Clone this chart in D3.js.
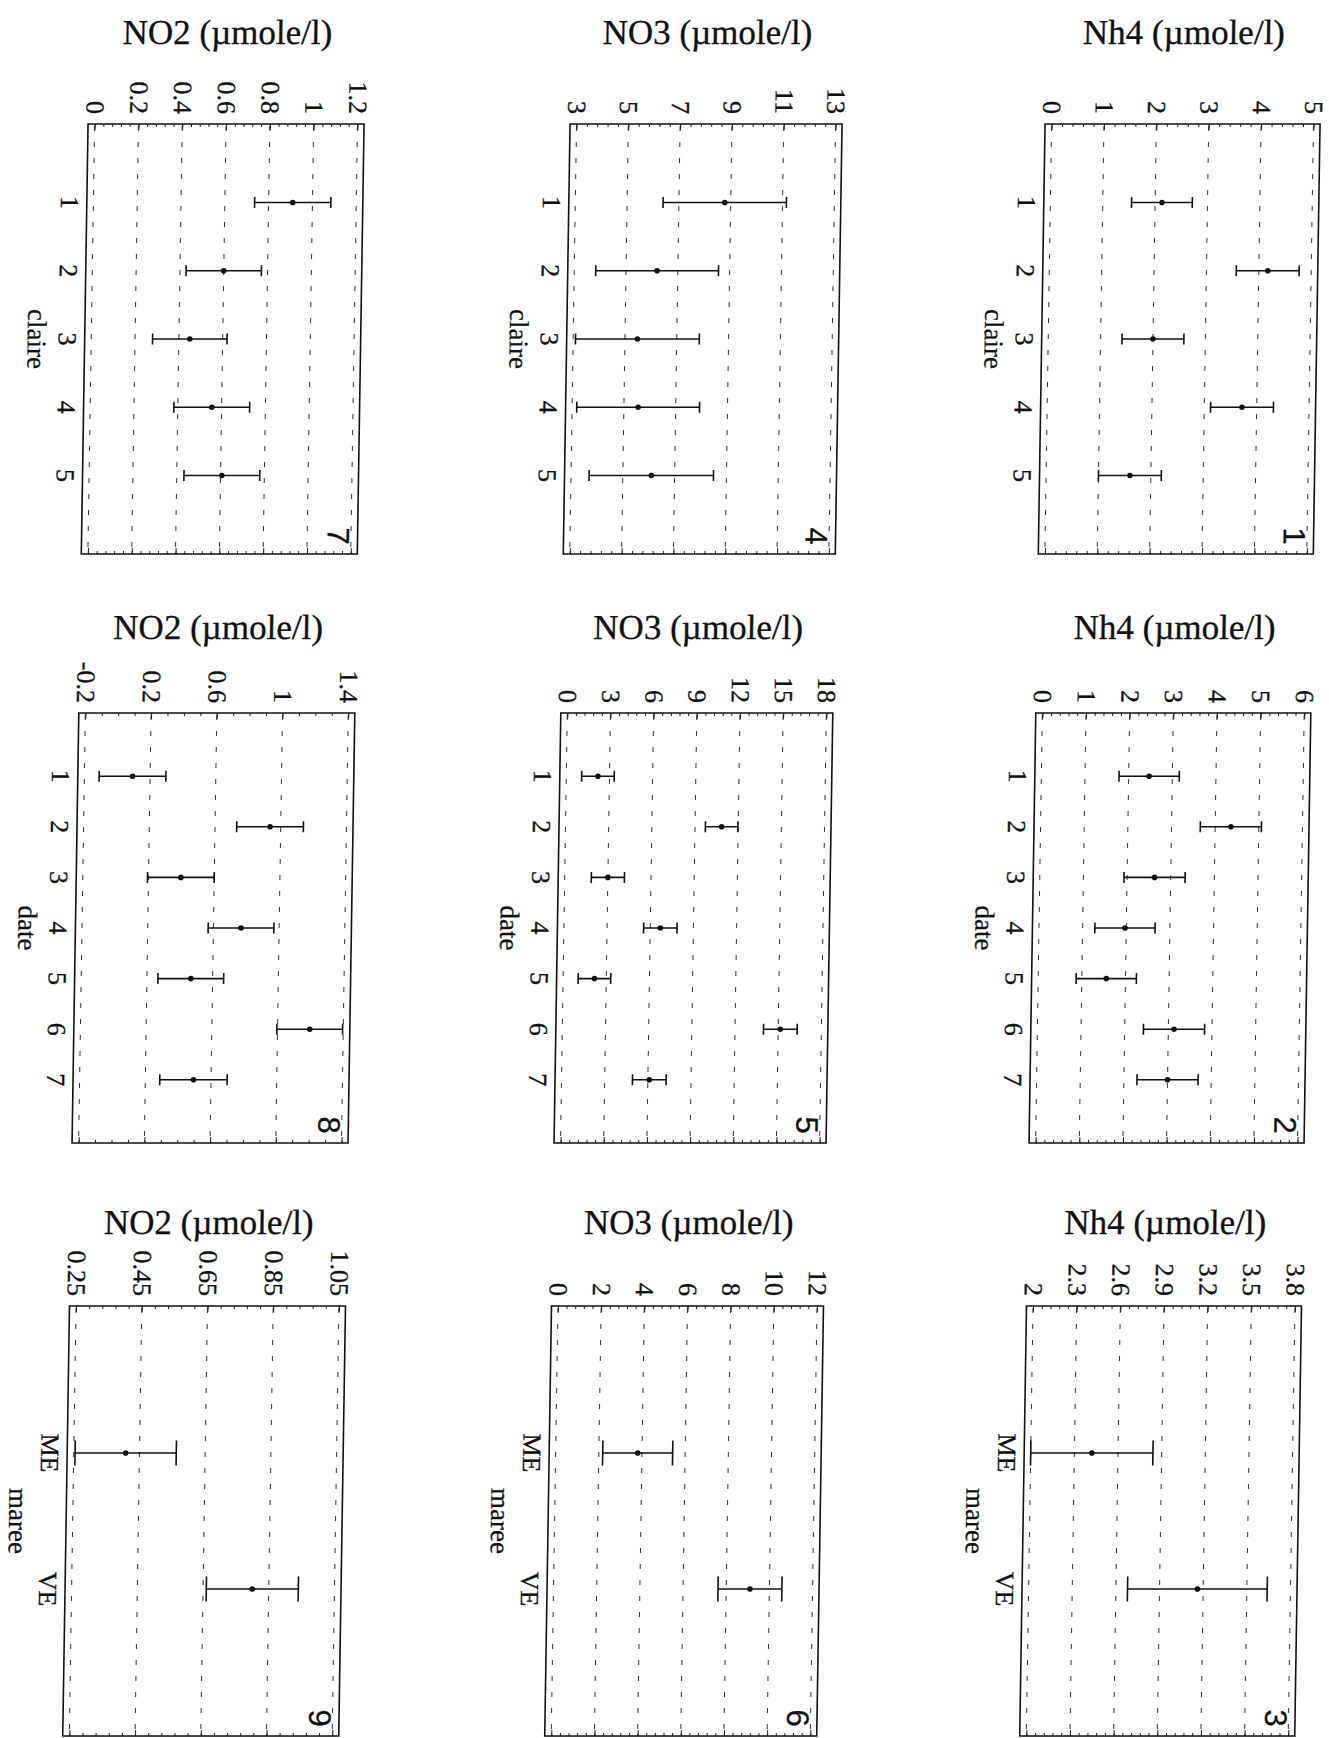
<!DOCTYPE html>
<html>
<head>
<meta charset="utf-8">
<script src="https://cdn.jsdelivr.net/npm/d3@7"></script>
<style>
  body { margin: 0; background: #fff; }
  svg { display: block; }
  text { font-family: "Liberation Serif", "Times New Roman", serif; fill: #111; stroke: #111; stroke-width: 0.3px; }
  .num { font-family: "Liberation Sans", Arial, sans-serif; }
</style>
</head>
<body>
<div id="my_dataviz"></div>
<script>
// categories of the three factors
var claireCats = ["1", "2", "3", "4", "5"];
var dateCats = ["1", "2", "3", "4", "5", "6", "7"];
var mareeCats = ["ME", "VE"];

// Nh4 : means and half error bars
var nh4ClaireMean = [2.13, 4.17, 2.0, 3.72, 1.6];
var nh4ClaireErr = [0.58, 0.6, 0.59, 0.6, 0.6];
var nh4DateMean = [2.47, 4.36, 2.63, 1.97, 1.56, 3.13, 3.0];
var nh4DateErr = [0.69, 0.7, 0.7, 0.69, 0.69, 0.7, 0.7];
var nh4MareeMean = [2.42, 3.16];
var nh4MareeErr = [0.42, 0.48];

// NO3
var no3ClaireMean = [8.77, 6.2, 5.48, 5.55, 6.1];
var no3ClaireErr = [2.38, 2.37, 2.39, 2.37, 2.4];
var no3DateMean = [2.2, 10.85, 3.0, 6.7, 2.18, 15.15, 6.1];
var no3DateErr = [1.13, 1.13, 1.15, 1.16, 1.13, 1.17, 1.17];
var no3MareeMean = [3.8, 9.1];
var no3MareeErr = [1.62, 1.48];

// NO2
var no2ClaireMean = [0.91, 0.6, 0.45, 0.555, 0.606];
var no2ClaireErr = [0.174, 0.172, 0.17, 0.173, 0.173];
var no2DateMean = [0.093, 0.935, 0.397, 0.768, 0.467, 1.196, 0.493];
var no2DateErr = [0.203, 0.203, 0.203, 0.2, 0.2, 0.2, 0.205];
var no2MareeMean = [0.408, 0.8];
var no2MareeErr = [0.154, 0.14];

// value axis tick values
var nh4ClaireTicks = [0, 1, 2, 3, 4, 5];
var nh4DateTicks = [0, 1, 2, 3, 4, 5, 6];
var nh4MareeTicks = [2, 2.3, 2.6, 2.9, 3.2, 3.5, 3.8];
var no3ClaireTicks = [3, 5, 7, 9, 11, 13];
var no3DateTicks = [0, 3, 6, 9, 12, 15, 18];
var no3MareeTicks = [0, 2, 4, 6, 8, 10, 12];
var no2ClaireTicks = [0, 0.2, 0.4, 0.6, 0.8, 1, 1.2];
var no2DateTicks = [-0.2, 0.2, 0.6, 1, 1.4];
var no2MareeTicks = [0.25, 0.45, 0.65, 0.85, 1.05];

var width = 1329, height = 1738;

// page layout (scanned page turned a quarter, slightly sheared)
var colX = [90, 572, 1047],
    colW = [276, 272, 275],
    rowY = [124, 713, 1306],
    boxH = 430,
    catPad = [1.15, 1.25, 1.08],
    capLen = [11, 11, 25],
    titleGap = [80, 74, 72];

var panels = [
    { num: 1, row: 0, col: 2, name: "Nh4", factor: "claire", cats: claireCats, mean: nh4ClaireMean, err: nh4ClaireErr, ticks: nh4ClaireTicks, minor: 5 },
    { num: 2, row: 1, col: 2, name: "Nh4", factor: "date", cats: dateCats, mean: nh4DateMean, err: nh4DateErr, ticks: nh4DateTicks, minor: 5 },
    { num: 3, row: 2, col: 2, name: "Nh4", factor: "maree", cats: mareeCats, mean: nh4MareeMean, err: nh4MareeErr, ticks: nh4MareeTicks, minor: 5 },
    { num: 4, row: 0, col: 1, name: "NO3", factor: "claire", cats: claireCats, mean: no3ClaireMean, err: no3ClaireErr, ticks: no3ClaireTicks, minor: 5 },
    { num: 5, row: 1, col: 1, name: "NO3", factor: "date", cats: dateCats, mean: no3DateMean, err: no3DateErr, ticks: no3DateTicks, minor: 5 },
    { num: 6, row: 2, col: 1, name: "NO3", factor: "maree", cats: mareeCats, mean: no3MareeMean, err: no3MareeErr, ticks: no3MareeTicks, minor: 5 },
    { num: 7, row: 0, col: 0, name: "NO2", factor: "claire", cats: claireCats, mean: no2ClaireMean, err: no2ClaireErr, ticks: no2ClaireTicks, minor: 5 },
    { num: 8, row: 1, col: 0, name: "NO2", factor: "date", cats: dateCats, mean: no2DateMean, err: no2DateErr, ticks: no2DateTicks, minor: 4 },
    { num: 9, row: 2, col: 0, name: "NO2", factor: "maree", cats: mareeCats, mean: no2MareeMean, err: no2MareeErr, ticks: no2MareeTicks, minor: 5 }
];

var svg = d3.select("#my_dataviz")
    .append("svg")
    .attr("width", width)
    .attr("height", height);

svg.append("rect").attr("width", width).attr("height", height).attr("fill", "#fff");

// the whole sheet leans a little, like the scan
var page = svg.append("g").attr("transform", "skewX(-0.9)");

panels.forEach(function(p) {
    var boxW = colW[p.col];
    var g = page.append("g")
        .attr("transform", "translate(" + colX[p.col] + "," + rowY[p.row] + ")");

    var lo = p.ticks[0], hi = p.ticks[p.ticks.length - 1],
        pad = (hi - lo) * 0.025;
    var x = d3.scaleLinear()
        .domain([lo - pad, hi + pad])
        .range([0, boxW]);
    var y = d3.scalePoint()
        .domain(p.cats)
        .range([0, boxH])
        .padding(catPad[p.row]);

    // dashed grid at each labelled value
    g.selectAll(".grid")
        .data(p.ticks)
        .enter()
        .append("line")
        .attr("x1", function(d) { return x(d); })
        .attr("x2", function(d) { return x(d); })
        .attr("y1", 2)
        .attr("y2", boxH)
        .attr("stroke", "#333")
        .attr("stroke-width", 1)
        .attr("stroke-dasharray", "5,11");

    // minor ticks, top and bottom
    var step = p.ticks[1] - p.ticks[0];
    var nMinor = Math.round((hi - lo) / step * p.minor);
    var minorVals = d3.range(0, nMinor + 1).map(function(i) { return lo + i * step / p.minor; });
    g.append("g")
        .call(d3.axisTop(x).tickValues(minorVals).tickSize(-3).tickFormat(""))
        .call(function(a) { a.select(".domain").remove(); });
    g.append("g")
        .attr("transform", "translate(0," + boxH + ")")
        .call(d3.axisBottom(x).tickValues(minorVals).tickSize(-3).tickFormat(""))
        .call(function(a) { a.select(".domain").remove(); });
    g.append("g")
        .attr("transform", "translate(0," + boxH + ")")
        .call(d3.axisBottom(x).tickValues(p.ticks).tickSize(-6).tickFormat(""))
        .call(function(a) { a.select(".domain").remove(); });

    // value axis with rotated labels
    var top = g.append("g")
        .call(d3.axisTop(x).tickValues(p.ticks).tickSize(-6).tickFormat(function(d) { return String(d); }));
    top.select(".domain").remove();
    top.selectAll("text")
        .attr("x", 0)
        .attr("y", 0)
        .attr("dy", "0.35em")
        .attr("text-anchor", "end")
        .attr("transform", "translate(0,-10) rotate(90)")
        .style("font-family", "'Liberation Serif', serif")
        .style("font-size", "26px");

    g.selectAll(".tick line").attr("stroke", "#222");

    // frame
    g.append("rect")
        .attr("width", boxW)
        .attr("height", boxH)
        .attr("fill", "none")
        .attr("stroke", "#111")
        .attr("stroke-width", 1.6);

    // category labels on the left
    g.selectAll(".cat")
        .data(p.cats)
        .enter()
        .append("text")
        .attr("transform", function(d) { return "translate(-26," + y(d) + ") rotate(90)"; })
        .attr("text-anchor", "middle")
        .style("font-size", "26px")
        .text(function(d) { return d; });

    // factor name
    g.append("text")
        .attr("transform", "translate(-57," + (boxH / 2) + ") rotate(90)")
        .attr("text-anchor", "middle")
        .style("font-size", "27px")
        .text(p.factor);

    // title
    g.append("text")
        .attr("x", boxW / 2)
        .attr("y", -titleGap[p.row])
        .attr("text-anchor", "middle")
        .style("font-size", "35px")
        .text(p.name + " (\u00b5mole/l)");

    // panel number
    g.append("text")
        .attr("class", "num")
        .attr("transform", "translate(" + (boxW - 30) + "," + (boxH - 18) + ") rotate(90)")
        .attr("text-anchor", "middle")
        .style("font-size", "31px")
        .text(p.num);

    // error bars
    var rows = p.cats.map(function(c, i) { return { cat: c, mean: p.mean[i], err: p.err[i] }; });
    var cap = capLen[p.row] / 2;
    var bars = g.selectAll(".bar")
        .data(rows)
        .enter()
        .append("g")
        .attr("transform", function(d) { return "translate(0," + y(d.cat) + ")"; });
    bars.append("line")
        .attr("x1", function(d) { return x(d.mean - d.err); })
        .attr("x2", function(d) { return x(d.mean + d.err); })
        .attr("stroke", "#111")
        .attr("stroke-width", 1.6);
    bars.append("line")
        .attr("x1", function(d) { return x(d.mean - d.err); })
        .attr("x2", function(d) { return x(d.mean - d.err); })
        .attr("y1", -cap).attr("y2", cap)
        .attr("stroke", "#111")
        .attr("stroke-width", 1.6);
    bars.append("line")
        .attr("x1", function(d) { return x(d.mean + d.err); })
        .attr("x2", function(d) { return x(d.mean + d.err); })
        .attr("y1", -cap).attr("y2", cap)
        .attr("stroke", "#111")
        .attr("stroke-width", 1.6);
    bars.append("circle")
        .attr("cx", function(d) { return x(d.mean); })
        .attr("r", 2.8)
        .attr("fill", "#111");
});
</script>
</body>
</html>
